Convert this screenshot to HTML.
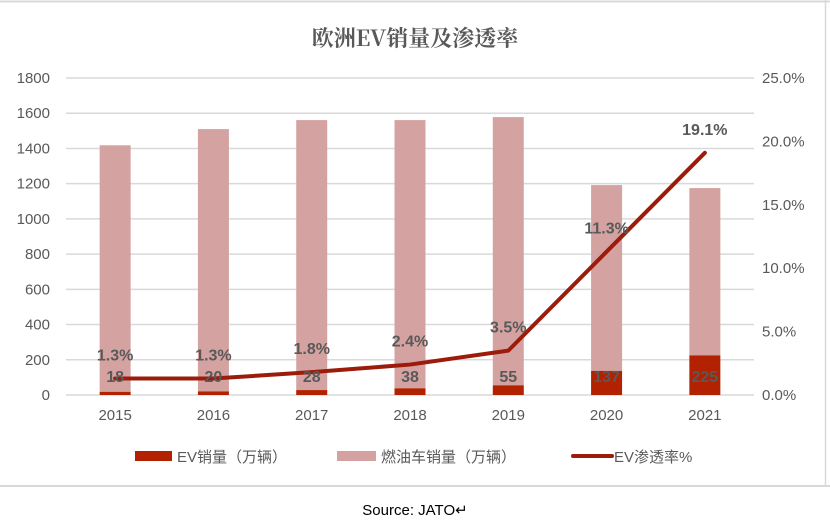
<!DOCTYPE html>
<html><head><meta charset="utf-8">
<style>
body{margin:0;background:#fff;}
svg text{font-family:"Liberation Sans","Noto Sans CJK SC",sans-serif;fill:#595959;}
</style></head>
<body>
<svg width="830" height="525" viewBox="0 0 830 525">
<line x1="0" y1="1.5" x2="830" y2="1.5" stroke="#d9d9d9" stroke-width="2"/>
<line x1="825.5" y1="0" x2="825.5" y2="486" stroke="#d9d9d9" stroke-width="1.5"/>
<line x1="0" y1="486" x2="830" y2="486" stroke="#d9d9d9" stroke-width="2"/>
<text x="415" y="46" text-anchor="middle" font-size="22" font-weight="bold" style="font-family:'Noto Serif CJK SC','Liberation Serif',serif;fill:#595959">欧洲EV销量及渗透率</text>
<g id="grid"></g><g id="bars"></g><g id="line"></g><g id="labels"></g>
<g>
<rect x="135" y="451" width="37" height="10" fill="#b22200"/>
<text x="177" y="462" font-size="15">EV销量（万辆）</text>
<rect x="337" y="451" width="39" height="10" fill="#d4a3a1"/>
<text x="381" y="462" font-size="15">燃油车销量（万辆）</text>
<line x1="573" y1="456" x2="612" y2="456" stroke="#9b1c0a" stroke-width="4" stroke-linecap="round"/>
<text x="614" y="462" font-size="15">EV渗透率%</text>
</g>
<text x="415" y="515" text-anchor="middle" font-size="15" style="fill:#000">Source: JATO↵</text>
</svg>
<script>
const years=["2015","2016","2017","2018","2019","2020","2021"];
const evSales=[18,20,28,38,55,137,225];
const iceSales=[1400,1490,1533,1523,1523,1055,950];
const evRate=[1.3,1.3,1.8,2.4,3.5,11.3,19.1];
const leftTicks=[0,200,400,600,800,1000,1200,1400,1600,1800];
const rightTicks=[0,5,10,15,20,25];
const NS="http://www.w3.org/2000/svg";
const x0=66,x1=754,yb=395,yt=78;
const band=(x1-x0)/years.length;
const xc=i=>x0+band*(i+0.5);
const yL=v=>yb-(v/1800)*(yb-yt);
const yR=v=>yb-(v/25)*(yb-yt);
function mk(tag,attrs,parent,txt){const e=document.createElementNS(NS,tag);for(const k in attrs)e.setAttribute(k,attrs[k]);if(txt!==undefined)e.textContent=txt;document.getElementById(parent).appendChild(e);return e;}
leftTicks.forEach(v=>{
 const l=mk('line',{x1:x0,x2:x1,y1:yL(v),y2:yL(v),stroke:'#d9d9d9','stroke-width':1.5},'grid');
 
 
 const t=mk('text',{x:50,y:yL(v)+5,'text-anchor':'end','font-size':15},'grid',String(v));
 
 
});
rightTicks.forEach(v=>{
 const t=mk('text',{x:762,y:yR(v)+5,'font-size':15},'grid',v.toFixed(1)+'%');
 
 
});
const bw=31;
years.forEach((y,i)=>{
 const cx=xc(i);
 const g=mk('rect',{x:cx-bw/2,y:yL(evSales[i]+iceSales[i]),width:bw,height:yL(evSales[i])-yL(evSales[i]+iceSales[i]),fill:'#d4a3a1'},'bars');
 
 
 const e=mk('rect',{x:cx-bw/2,y:yL(evSales[i]),width:bw,height:yb-yL(evSales[i]),fill:'#b22200'},'bars');
 
 
 const xl=mk('text',{x:cx,y:420,'text-anchor':'middle','font-size':15},'labels',y);
 
 
 const vl=mk('text',{x:cx,y:382,'text-anchor':'middle','font-size':16,'font-weight':'bold'},'labels',String(evSales[i]));
 
 
 const pl=mk('text',{x:cx,y:yR(evRate[i])-18,'text-anchor':'middle','font-size':16,'font-weight':'bold'},'labels',evRate[i].toFixed(1)+'%');
 
 
});
const pts=years.map((y,i)=>xc(i)+','+yR(evRate[i])).join(' ');
const pl=mk('polyline',{points:pts,fill:'none',stroke:'#9b1c0a','stroke-width':4,'stroke-linejoin':'round','stroke-linecap':'round'},'line');


</script>
</body></html>
